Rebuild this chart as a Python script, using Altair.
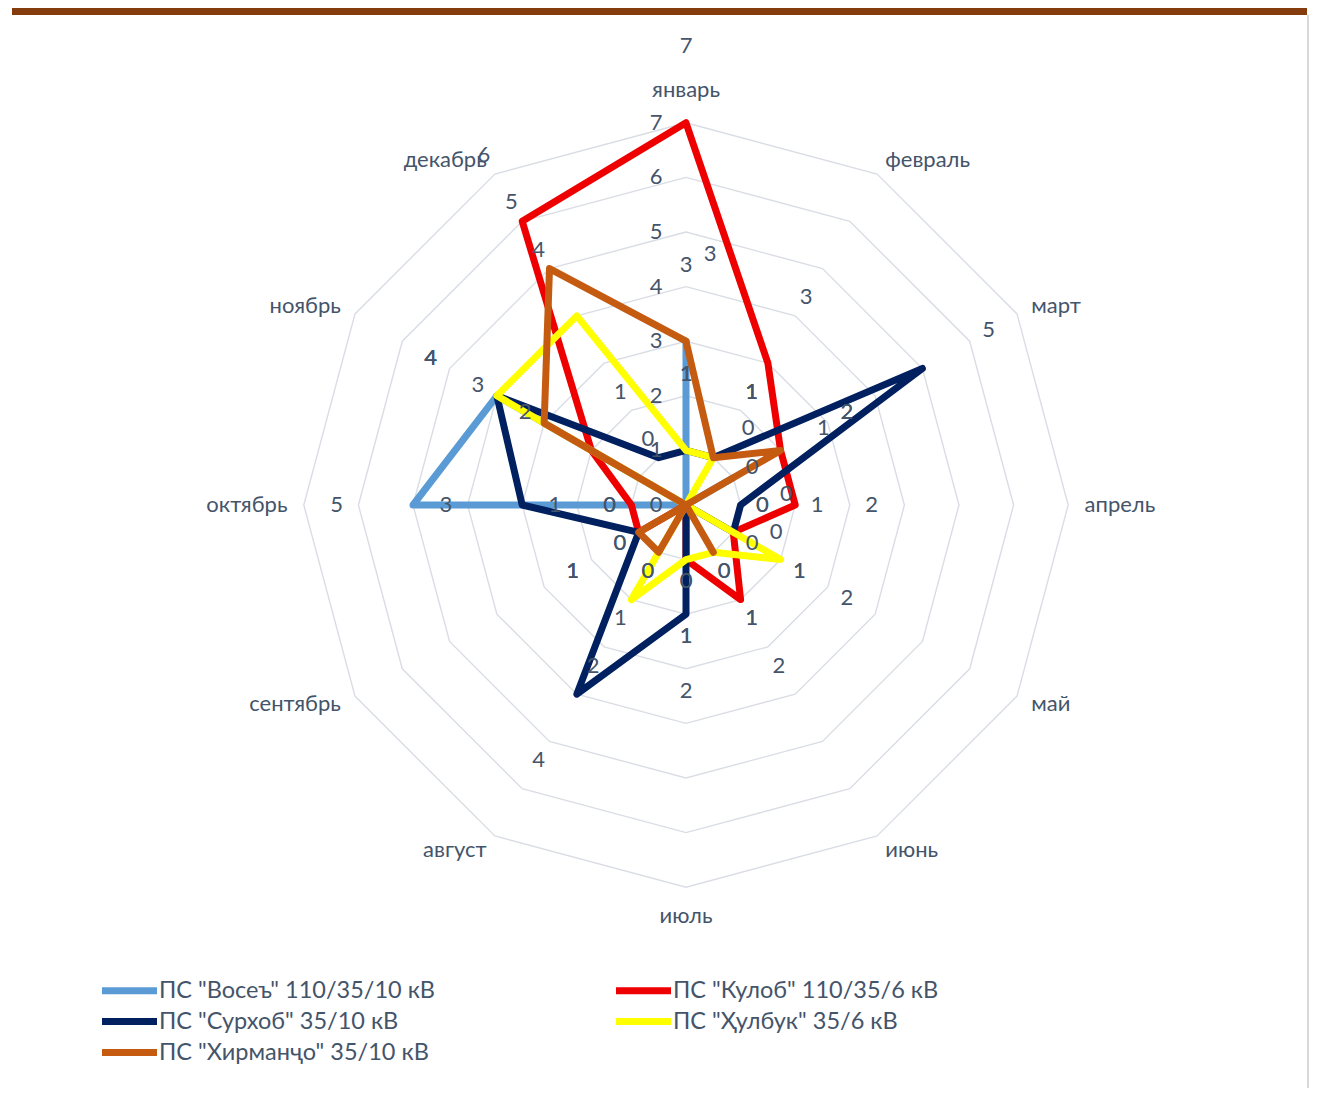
import altair as alt
import pandas as pd
import numpy as np

# ---------------- data ----------------
months = ["январь", "февраль", "март", "апрель", "май", "июнь",
          "июль", "август", "сентябрь", "октябрь", "ноябрь", "декабрь"]
series_names = ['ПС "Восеъ" 110/35/10 кВ', 'ПС "Кулоб" 110/35/6 кВ',
                'ПС "Сурхоб" 35/10 кВ', 'ПС "Ҳулбук" 35/6 кВ',
                'ПС "Хирманҷо" 35/10 кВ']
vosea = [3, 0, 1, 0, 0, 0, 0, 0, 0, 5, 4, 0]
kulob = [7, 3, 2, 2, 1, 2, 1, 0, 1, 1, 2, 6]
surkhob = [1, 1, 5, 1, 1, 0, 2, 4, 1, 3, 4, 1]
hulbuk = [1, 1, 0, 0, 2, 1, 1, 2, 0, 0, 4, 4]
khirmanjo = [3, 1, 2, 0, 0, 1, 0, 1, 1, 0, 3, 5]
series_values = [vosea, kulob, surkhob, hulbuk, khirmanjo]
colors = ["#5B9BD5", "#EE0000", "#002060", "#FFFF00", "#C55A11"]
ring_levels = [1, 2, 3, 4, 5, 6, 7]
axis_ticks = [0, 1, 2, 3, 4, 5, 6, 7]
# blue series: its Jan..May labels sit slightly displaced in the original
shifted_label_months = [0, 1, 2, 3, 4]

# ---------------- geometry helpers ----------------
u = 54.6            # pixels per unit
W, H = 1297, 1080
cx, cy = 674, 497   # centre of the radar in plot pixels
xdom = [-cx / u, (W - cx) / u]
ydom = [-(H - cy) / u, cy / u]
LABEL_GAP = 1.4
MONTH_R = 7.3
FONT = "Lato"
TXT = "#44546A"
FS = 22


def pol(i, r):
    th = np.deg2rad(30 * i)
    return float(r * np.sin(th)), float(r * np.cos(th))


xs = alt.Scale(domain=xdom, nice=False, zero=False)
ys = alt.Scale(domain=ydom, nice=False, zero=False)
X = alt.X("x:Q", scale=xs, axis=None)
Y = alt.Y("y:Q", scale=ys, axis=None)

# grid rings
grid_rows = []
for lv in ring_levels:
    for k in range(13):
        x, y = pol(k % 12, lv)
        grid_rows.append({"ring": lv, "o": k, "x": x, "y": y})
grid_df = pd.DataFrame(grid_rows)

# series polygons
line_rows = []
label_rows = []
for sname, vals in zip(series_names, series_values):
    for k in range(13):
        i = k % 12
        x, y = pol(i, vals[i])
        line_rows.append({"series": sname, "o": k, "x": x, "y": y})
    for i, v in enumerate(vals):
        x, y = pol(i, v + LABEL_GAP)
        shifted = (sname == series_names[0]) and (i in shifted_label_months)
        label_rows.append({"series": sname, "x": x, "y": y, "t": str(v),
                           "shift": shifted})
line_df = pd.DataFrame(line_rows)
label_df = pd.DataFrame(label_rows)

# month labels
mrows = []
for i, m in enumerate(months):
    x, y = pol(i, MONTH_R)
    if i == 0:
        side = "top"
    elif i == 6:
        side = "bottom"
    elif i < 6:
        side = "right"
    else:
        side = "left"
    mrows.append({"x": x, "y": y, "m": m, "side": side})
month_df = pd.DataFrame(mrows)

# radial axis labels along the January spoke
tick_df = pd.DataFrame([{"x": 0.0, "y": float(t), "t": str(t)} for t in axis_ticks])

color = alt.Color(
    "series:N",
    scale=alt.Scale(domain=series_names, range=colors),
    legend=alt.Legend(
        title=None, orient="none", legendX=103, legendY=968, columns=2,
        direction="horizontal", columnPadding=166, rowPadding=2,
        symbolType="M-2.5,0H2.5", symbolSize=484, symbolStrokeWidth=7,
        labelFont=FONT, labelFontSize=23.5, labelColor=TXT, labelLimit=600,
        labelOffset=15,
    ),
)

grid = alt.Chart(grid_df).mark_line(color="#D9DDE4", strokeWidth=1.4).encode(
    x=X, y=Y, detail="ring:N", order="o:Q")

layers = [grid]
for sname in series_names:
    layers.append(
        alt.Chart(line_df).transform_filter(
            alt.FieldEqualPredicate(field="series", equal=sname)
        ).mark_line(strokeWidth=7, strokeJoin="round", strokeCap="round").encode(
            x=X, y=Y, color=color, order="o:Q")
    )

lab_base = alt.Chart(label_df)
labels_norm = lab_base.transform_filter("!datum.shift").mark_text(
    font=FONT, fontSize=FS, color=TXT, align="center", baseline="middle"
).encode(x=X, y=Y, text="t:N")
labels_shift = lab_base.transform_filter("datum.shift").mark_text(
    font=FONT, fontSize=FS, color=TXT, align="center", baseline="middle",
    dx=24, dy=-11
).encode(x=X, y=Y, text="t:N")

ticks = alt.Chart(tick_df).mark_text(
    font=FONT, fontSize=FS, color=TXT, align="center", baseline="middle", dx=-30
).encode(x=X, y=Y, text="t:N")

mbase = alt.Chart(month_df)
m_right = mbase.transform_filter("datum.side == 'right'").mark_text(
    font=FONT, fontSize=FS, color=TXT, align="left", baseline="middle"
).encode(x=X, y=Y, text="m:N")
m_left = mbase.transform_filter("datum.side == 'left'").mark_text(
    font=FONT, fontSize=FS, color=TXT, align="right", baseline="middle"
).encode(x=X, y=Y, text="m:N")
m_top = mbase.transform_filter("datum.side == 'top'").mark_text(
    font=FONT, fontSize=FS, color=TXT, align="center", baseline="bottom", dy=-4
).encode(x=X, y=Y, text="m:N")
m_bottom = mbase.transform_filter("datum.side == 'bottom'").mark_text(
    font=FONT, fontSize=FS, color=TXT, align="center", baseline="top", dy=2
).encode(x=X, y=Y, text="m:N")

# decorative frame: brown top bar and thin right border
top_bar = alt.Chart(tick_df).mark_rule(color="#843C0C", strokeWidth=7).encode(
    x=alt.value(0), x2=alt.value(W - 2), y=alt.value(3.5))
right_border = alt.Chart(tick_df).mark_rule(color="#D9D9D9", strokeWidth=1.5).encode(
    x=alt.value(W - 1), y=alt.value(7), y2=alt.value(H))

chart = alt.layer(
    *layers, labels_norm, labels_shift, ticks, m_right, m_left, m_top, m_bottom,
    top_bar, right_border
).properties(width=W, height=H, padding=0, background="white").configure_view(
    stroke=None)

chart.save("out.html", embed_options={"renderer": "svg", "actions": False})
